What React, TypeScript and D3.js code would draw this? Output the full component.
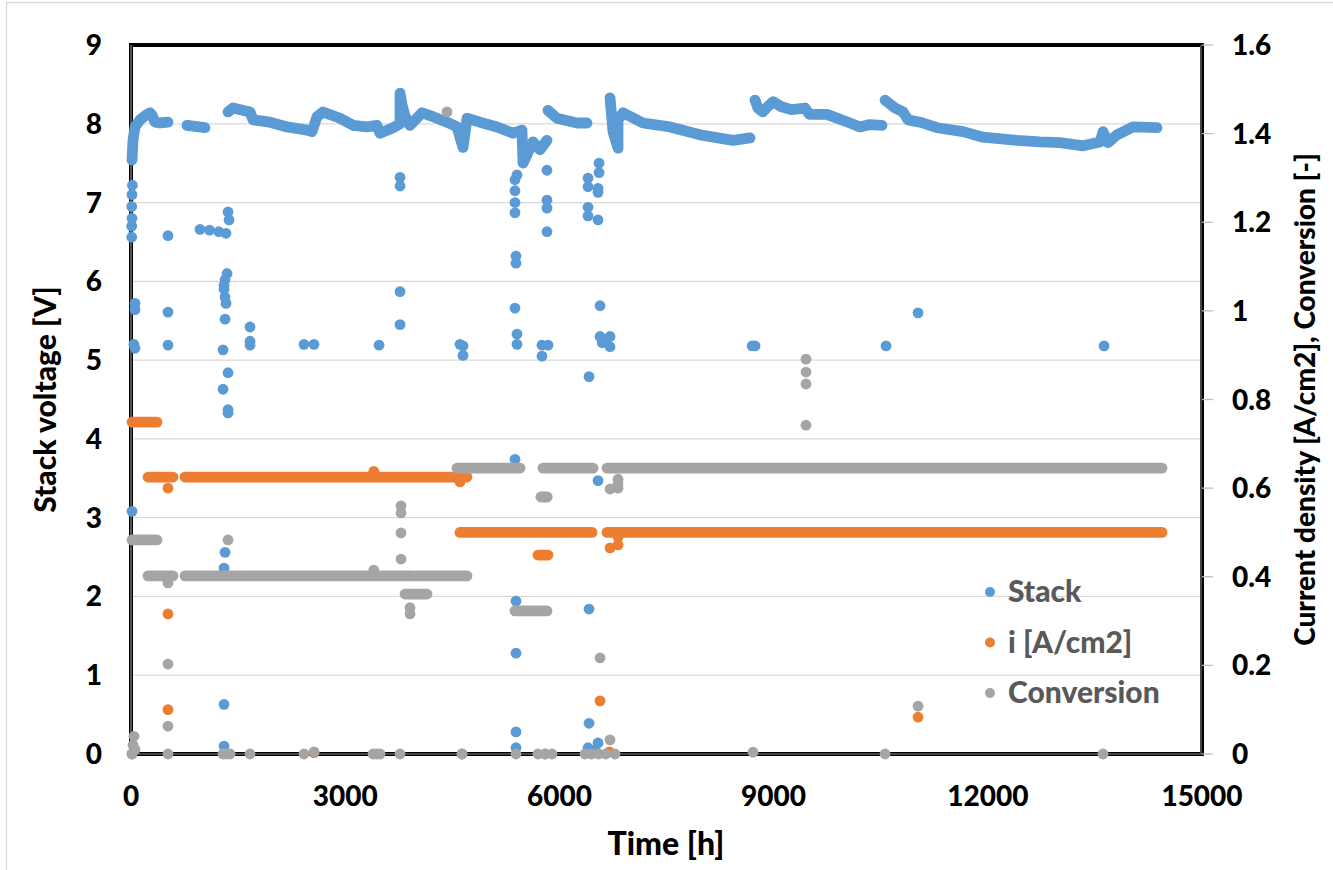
import React, { useEffect, useRef } from 'react';
import * as d3 from 'd3';

// time [h], stack voltage [V] -- continuous stretches of the stack curve
const stackSegments: number[][][] = [
  [[14, 7.54], [28, 7.79], [56, 7.96], [126, 8.05], [196, 8.1], [266, 8.14], [294, 8.11], [336, 8.02], [406, 8.01], [518, 8.02]],
  [[784, 7.98], [1036, 7.95]],
  [[1359, 8.15], [1429, 8.2], [1667, 8.15], [1709, 8.05], [1947, 8.02], [2185, 7.96], [2465, 7.92], [2535, 7.9], [2605, 8.09],
   [2689, 8.15], [2927, 8.07], [3109, 7.98], [3305, 7.96], [3445, 7.98], [3488, 7.88], [3670, 7.95], [3768, 8.0], [3768, 8.39],
   [3796, 8.24], [3838, 8.1], [3908, 7.98], [4076, 8.14], [4230, 8.09], [4426, 8.02], [4566, 7.96], [4650, 7.7], [4706, 8.07],
   [4888, 8.02], [5126, 7.96], [5350, 7.88], [5476, 7.92], [5490, 7.5], [5630, 7.77], [5728, 7.67], [5826, 7.79]],
  [[5840, 8.17], [5966, 8.07], [6247, 8.01], [6387, 8.01]],
  [[6709, 8.33], [6751, 7.9], [6821, 7.69], [6821, 8.05], [6891, 8.14], [7171, 8.01], [7549, 7.96], [7969, 7.86], [8432, 7.79], [8670, 7.82]],
  [[8740, 8.3], [8780, 8.2], [8850, 8.15], [8920, 8.22], [8992, 8.28], [9100, 8.22], [9250, 8.18], [9440, 8.2], [9500, 8.12],
   [9748, 8.12], [10070, 8.01], [10210, 7.96], [10350, 7.99], [10518, 7.98]],
  [[10561, 8.3], [10700, 8.2], [10813, 8.15], [10883, 8.05], [11051, 8.02], [11289, 7.95], [11653, 7.9], [11933, 7.83], [12409, 7.79],
   [12731, 7.77], [13012, 7.76], [13334, 7.72], [13572, 7.77], [13614, 7.9], [13684, 7.76], [13810, 7.86], [14034, 7.96], [14370, 7.95]]
];

// scattered stack readings
const stackPoints: number[][] = [
  [20, 7.22], [14, 7.1], [10, 6.95], [14, 6.8], [10, 6.7], [10, 6.56], [518, 6.58],
  [966, 6.66], [1100, 6.65], [1230, 6.63], [1330, 6.61], [1359, 6.88], [1373, 6.78],
  [3768, 7.32], [3768, 7.21], [3768, 5.87], [3768, 5.45],
  [56, 5.72], [56, 5.64], [56, 5.15], [40, 5.2], [518, 5.61], [518, 5.19],
  [1345, 6.1], [1317, 6.02], [1303, 5.95], [1303, 5.9], [1317, 5.8], [1331, 5.72], [1317, 5.52], [1289, 5.13],
  [1359, 4.84], [1289, 4.63], [1359, 4.37], [1359, 4.33],
  [1667, 5.42], [1667, 5.24], [1667, 5.19], [2423, 5.2], [2563, 5.2], [3474, 5.19],
  [4608, 5.2], [4650, 5.18], [4650, 5.06], [5378, 5.66], [5406, 5.33], [5406, 5.2],
  [5756, 5.19], [5840, 5.19], [5756, 5.05], [6415, 4.79],
  [6569, 5.69], [6569, 5.3], [6600, 5.22], [6640, 5.25], [6709, 5.3], [6709, 5.17], [8700, 5.18], [8740, 5.18],
  [5378, 3.74], [6541, 3.47],
  [5406, 7.35], [5378, 7.29], [5378, 7.15], [5378, 7.0], [5378, 6.87], [5392, 6.32], [5392, 6.23],
  [5826, 7.41], [5826, 7.03], [5826, 6.93], [5826, 6.63],
  [6401, 7.31], [6401, 7.2], [6401, 6.94], [6401, 6.83],
  [6555, 7.5], [6555, 7.38], [6541, 7.18], [6541, 7.13], [6541, 6.78],
  [10575, 5.18], [11023, 5.6], [13628, 5.18],
  [14, 3.08], [1317, 2.56], [1303, 2.36], [1303, 0.63], [1303, 0.1],
  [5392, 1.94], [5392, 1.28], [6415, 1.84], [6415, 0.39], [5392, 0.28], [5392, 0.08], [6401, 0.08], [6541, 0.14], [6500, 0.05]
];

// current density [A/cm2]: [from h, to h, value] steady runs, then single readings
const currentRuns: number[][] = [
  [14, 364, 0.749], [238, 588, 0.625], [756, 4706, 0.625], [4608, 6457, 0.5], [6667, 14440, 0.5], [5700, 5840, 0.449]
];
const currentPoints: number[][] = [
  [518, 0.6], [518, 0.316], [518, 0.1], [3400, 0.638], [4608, 0.614], [6709, 0.465], [6821, 0.472], [6821, 0.49],
  [6569, 0.12], [11023, 0.083], [14, 0], [4636, 0], [2563, 0.003], [5800, 0], [6700, 0.005]
];

// conversion [-]
const conversionRuns: number[][] = [
  [14, 364, 0.483], [238, 588, 0.402], [756, 3950, 0.402], [3990, 4706, 0.402], [3838, 4146, 0.361],
  [5378, 5826, 0.323], [4566, 5448, 0.645], [5770, 6471, 0.645], [6667, 14440, 0.645], [5740, 5830, 0.58]
];
const conversionPoints: number[][] = [
  [518, 0.386], [518, 0.203], [518, 0.063], [1359, 0.483], [3400, 0.415],
  [3782, 0.56], [3782, 0.544], [3782, 0.499], [3782, 0.44], [3908, 0.33], [3908, 0.316], [4426, 1.449],
  [6569, 0.217], [6709, 0.032], [6709, 0.598], [6821, 0.61], [6821, 0.6], [6821, 0.62],
  [9454, 0.891], [9454, 0.862], [9454, 0.835], [9454, 0.742], [11023, 0.108],
  [14, 0], [28, 0.02], [42, 0.04], [56, 0.01], [518, 0], [1289, 0], [1331, 0], [1387, 0], [1667, 0], [2423, 0],
  [2563, 0.005], [3390, 0], [3440, 0], [3488, 0], [3768, 0], [4636, 0], [5392, 0], [5700, 0], [5800, 0], [5896, 0],
  [6359, 0], [6450, 0], [6550, 0], [6650, 0], [6779, 0], [8712, 0.004], [10561, 0], [13614, 0]
];

const xTicks = [0, 3000, 6000, 9000, 12000, 15000];
const leftTicks = [0, 1, 2, 3, 4, 5, 6, 7, 8, 9];
const rightTicks = [0, 0.2, 0.4, 0.6, 0.8, 1, 1.2, 1.4, 1.6];
const legendItems = ['Stack', 'i [A/cm2]', 'Conversion'];

const BLUE = '#5b9bd5';
const ORANGE = '#ed7d31';
const GRAY = '#a5a5a5';
const FONT = 'Lato, "Open Sans", sans-serif';

export default function App() {
  const ref = useRef<SVGSVGElement>(null);

  useEffect(() => {
    const svg = d3.select(ref.current);
    svg.selectAll('*').remove();

    const margin = { left: 131, right: 1202, top: 45, bottom: 754 };
    const x = d3.scaleLinear().domain([0, 15000]).range([margin.left, margin.right]);
    const yL = d3.scaleLinear().domain([0, 9]).range([margin.bottom, margin.top]);
    const yR = d3.scaleLinear().domain([0, 1.6]).range([margin.bottom, margin.top]);
    const r = 5.4;

    svg.append('rect')
      .attr('x', 6.5).attr('y', 2.5).attr('width', 1340).attr('height', 880)
      .attr('fill', 'white').attr('stroke', '#d9d9d9').attr('stroke-width', 1.3);

    // gridlines
    svg.append('g').selectAll('line')
      .data(leftTicks.filter(d => d > 0 && d < 9))
      .enter().append('line')
      .attr('x1', margin.left).attr('x2', margin.right)
      .attr('y1', d => yL(d)).attr('y2', d => yL(d))
      .attr('stroke', '#d9d9d9').attr('stroke-width', 1.3);

    // frame
    const frame = svg.append('g');
    frame.append('rect')
      .attr('x', margin.left).attr('y', margin.top)
      .attr('width', margin.right - margin.left).attr('height', margin.bottom - margin.top)
      .attr('fill', 'none').attr('stroke', 'black').attr('stroke-width', 4);
    frame.append('line')
      .attr('x1', margin.left).attr('x2', margin.left).attr('y1', margin.top).attr('y2', margin.bottom)
      .attr('stroke', '#8a8a8a').attr('stroke-width', 1.2);
    frame.append('line')
      .attr('x1', margin.left).attr('x2', margin.right).attr('y1', margin.bottom).attr('y2', margin.bottom)
      .attr('stroke', '#8a8a8a').attr('stroke-width', 1.2);
    frame.append('line')
      .attr('x1', margin.right - 1).attr('x2', margin.right - 1).attr('y1', margin.top).attr('y2', margin.bottom)
      .attr('stroke', '#8a8a8a').attr('stroke-width', 1);
    frame.selectAll('.rtick')
      .data(rightTicks)
      .enter().append('line')
      .attr('x1', margin.right).attr('x2', margin.right + 11)
      .attr('y1', d => yR(d)).attr('y2', d => yR(d))
      .attr('stroke', '#bfbfbf').attr('stroke-width', 1.3);

    // stack series
    const line = d3.line<number[]>().x(d => x(d[0])).y(d => yL(d[1]));
    const gStack = svg.append('g');
    gStack.selectAll('path')
      .data(stackSegments)
      .enter().append('path')
      .attr('d', d => line(d))
      .attr('fill', 'none').attr('stroke', BLUE).attr('stroke-width', r * 2)
      .attr('stroke-linecap', 'round').attr('stroke-linejoin', 'round');
    gStack.selectAll('circle')
      .data(stackPoints)
      .enter().append('circle')
      .attr('cx', d => x(d[0])).attr('cy', d => yL(d[1])).attr('r', r)
      .attr('fill', BLUE);

    const drawRuns = (runs: number[][], pts: number[][], color: string) => {
      const g = svg.append('g');
      g.selectAll('line')
        .data(runs)
        .enter().append('line')
        .attr('x1', d => x(d[0])).attr('x2', d => x(d[1]))
        .attr('y1', d => yR(d[2])).attr('y2', d => yR(d[2]))
        .attr('stroke', color).attr('stroke-width', r * 2).attr('stroke-linecap', 'round');
      g.selectAll('circle')
        .data(pts)
        .enter().append('circle')
        .attr('cx', d => x(d[0])).attr('cy', d => yR(d[1])).attr('r', r)
        .attr('fill', color);
    };
    drawRuns(currentRuns, currentPoints, ORANGE);
    drawRuns(conversionRuns, conversionPoints, GRAY);

    // tick labels
    const labels = svg.append('g')
      .style('font-family', FONT).style('font-weight', 900).style('font-size', '28px').attr('fill', 'black');
    labels.selectAll('.xl')
      .data(xTicks)
      .enter().append('text')
      .attr('x', d => x(d)).attr('y', 806)
      .attr('text-anchor', 'middle')
      .text(d => d);
    labels.selectAll('.yl')
      .data(leftTicks)
      .enter().append('text')
      .attr('x', 102).attr('y', d => yL(d) + 10)
      .attr('text-anchor', 'end')
      .text(d => d);
    labels.selectAll('.yr')
      .data(rightTicks)
      .enter().append('text')
      .attr('x', 1232).attr('y', d => yR(d) + 10)
      .attr('text-anchor', 'start')
      .text(d => d3.format('~g')(d));

    // axis titles
    labels.append('text')
      .attr('x', 666).attr('y', 855)
      .style('font-size', '32px')
      .attr('text-anchor', 'middle').text('Time [h]');
    labels.append('text')
      .attr('transform', `translate(56,${(margin.top + margin.bottom) / 2}) rotate(-90)`)
      .style('font-size', '30px')
      .attr('text-anchor', 'middle').text('Stack voltage [V]');
    labels.append('text')
      .attr('transform', `translate(1315,${(margin.top + margin.bottom) / 2}) rotate(-90)`)
      .attr('text-anchor', 'middle').text('Current density [A/cm2], Conversion [-]');

    // legend
    const legend = svg.append('g');
    const colors = [BLUE, ORANGE, GRAY];
    const items = legend.selectAll('g')
      .data(legendItems)
      .enter().append('g')
      .attr('transform', (d, i) => `translate(990,${592 + i * 50.5})`);
    items.append('circle').attr('r', 5).attr('fill', (d, i) => colors[i]);
    items.append('text')
      .attr('x', 18).attr('y', 10)
      .style('font-family', FONT).style('font-weight', 900).style('font-size', '30px')
      .attr('fill', '#595959')
      .text(d => d);
  }, []);

  return (
    <svg ref={ref} width={1333} height={870}
      style={{ position: 'absolute', left: 0, top: 0, background: 'white' }} />
  );
}
